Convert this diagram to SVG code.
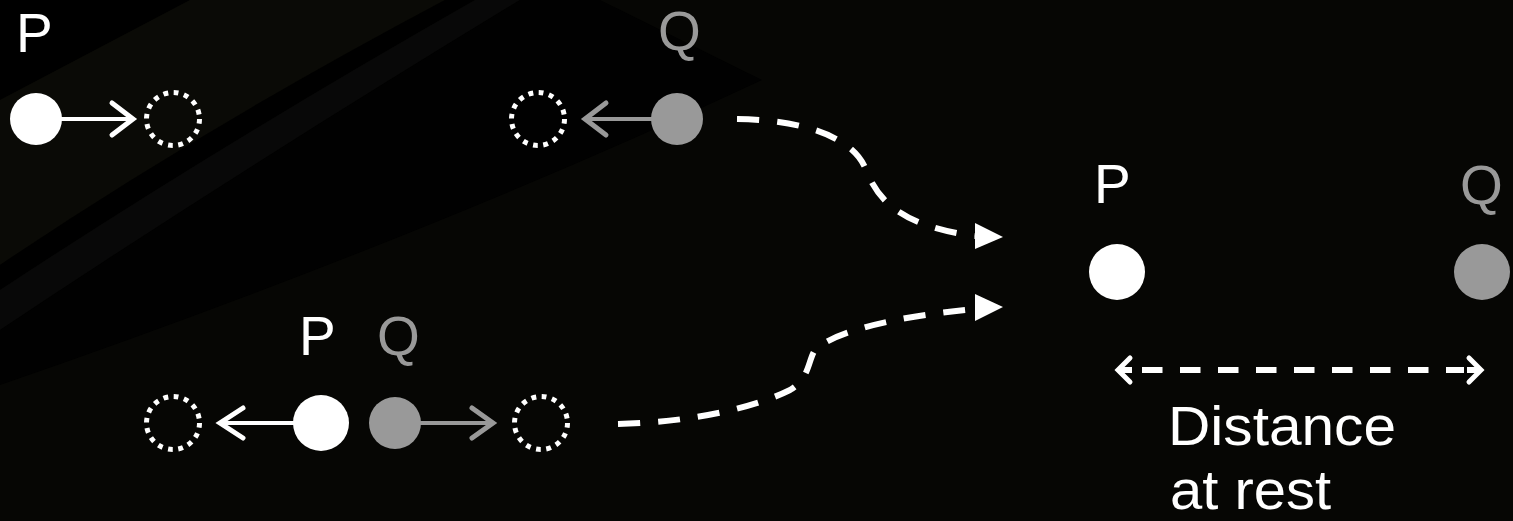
<svg xmlns="http://www.w3.org/2000/svg" width="1513" height="521" viewBox="0 0 1513 521">
  <style>
    .lbl { font-family: "Liberation Sans", Arial, sans-serif; font-size: 55px; }
    .w { fill: #ffffff; }
    .g { fill: #999999; }
    .dot { fill: none; stroke: #ffffff; stroke-width: 5; stroke-dasharray: 4.8 5.6; }
    .shaft-w { stroke: #ffffff; stroke-width: 4; fill: none; }
    .shaft-g { stroke: #999999; stroke-width: 4; fill: none; }
    .head-w { stroke: #ffffff; stroke-width: 5; fill: none; stroke-linecap: round; stroke-linejoin: miter; }
    .head-g { stroke: #999999; stroke-width: 5; fill: none; stroke-linecap: round; stroke-linejoin: miter; }
    .flow { fill: none; stroke: #ffffff; stroke-width: 6; stroke-dasharray: 22 18; }
    .tip { fill: #ffffff; }
  </style>

  <g id="background">
    <rect x="0" y="0" width="1513" height="521" fill="#060604"/>
    <path d="M0,0 L190,0 L0,100 Z" fill="#000000"/>
    <path d="M0,100 L190,0 L445,0 Q200,130 0,265 Z" fill="#0a0a06"/>
    <path d="M0,265 Q200,130 445,0 L475,0 Q220,145 0,290 Z" fill="#000000"/>
    <path d="M0,290 Q220,145 475,0 L520,0 Q240,170 0,330 Z" fill="#080808"/>
    <path d="M0,330 Q240,170 520,0 L600,0 L762,80 Q420,240 0,385 Z" fill="#010101"/>
  </g>

  <g id="node-p-moving">
    <text class="lbl w" x="16" y="52" font-size="56">P</text>
    <circle class="w" cx="36" cy="119" r="26"/>
    <line class="shaft-w" x1="60" y1="119" x2="131" y2="119"/>
    <polyline class="head-w" points="112,103 133,119 112,135"/>
    <circle class="dot" cx="173" cy="119" r="26.5"/>
  </g>

  <g id="node-q-moving">
    <text class="lbl g" x="658" y="50" font-size="56">Q</text>
    <circle class="dot" cx="538" cy="119" r="26.5"/>
    <line class="shaft-g" x1="587" y1="119" x2="654" y2="119"/>
    <polyline class="head-g" points="606,103 585,119 606,135"/>
    <circle class="g" cx="677" cy="119" r="26"/>
  </g>

  <g id="node-pq-apart">
    <text class="lbl w" x="299" y="355">P</text>
    <text class="lbl g" x="377" y="355">Q</text>
    <circle class="dot" cx="173" cy="423" r="26.5"/>
    <line class="shaft-w" x1="222" y1="423" x2="296" y2="423"/>
    <polyline class="head-w" points="243,408 220,423 243,438"/>
    <circle class="w" cx="321" cy="423" r="28"/>
    <circle class="g" cx="395" cy="423" r="26"/>
    <line class="shaft-g" x1="418" y1="423" x2="491" y2="423"/>
    <polyline class="head-g" points="472,408 493,423 472,438"/>
    <circle class="dot" cx="541" cy="423" r="26.5"/>
  </g>

  <g id="node-rest">
    <text class="lbl w" x="1094" y="203">P</text>
    <text class="lbl g" x="1460" y="204">Q</text>
    <circle class="w" cx="1117" cy="272" r="28"/>
    <circle class="g" cx="1482" cy="272" r="28"/>
    <line x1="1142" y1="370" x2="1464" y2="370" stroke="#ffffff" stroke-width="6" stroke-dasharray="20.5 17.5"/>
    <line x1="1119" y1="370" x2="1132" y2="370" stroke="#ffffff" stroke-width="6"/>
    <polyline points="1130,358 1118,370 1130,382" fill="none" stroke="#ffffff" stroke-width="5" stroke-linecap="round"/>
    <line x1="1467" y1="370" x2="1480" y2="370" stroke="#ffffff" stroke-width="6"/>
    <polyline points="1469,358 1481,370 1469,382" fill="none" stroke="#ffffff" stroke-width="5" stroke-linecap="round"/>
    <text class="lbl w" x="1168" y="445" textLength="228" lengthAdjust="spacingAndGlyphs">Distance</text>
    <text class="lbl w" x="1170" y="509" textLength="161" lengthAdjust="spacingAndGlyphs">at rest</text>
  </g>

  <g id="connectors">
    <path class="flow" d="M737,119 C810,120 855,140 866,170 C878,200 900,226 975,236"/>
    <polygon class="tip" points="975,223 1003,237 975,249"/>
    <path class="flow" d="M618,424 C700,422 760,405 790,390 C810,378 808,360 815,350 C830,335 880,318 975,309"/>
    <polygon class="tip" points="975,294 1003,307 975,321"/>
  </g>
</svg>
